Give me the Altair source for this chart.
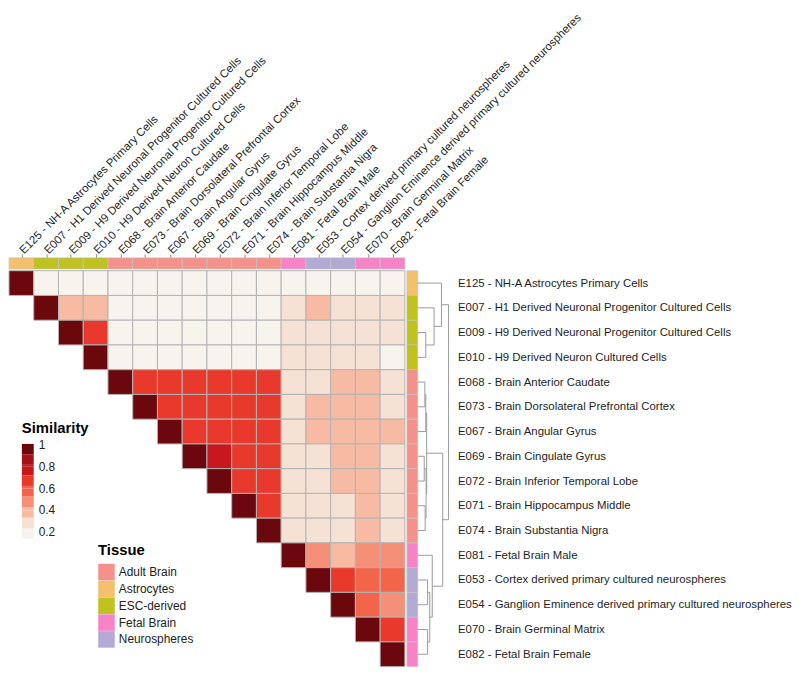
import json
import altair as alt
import pandas as pd

# ---------------- data ----------------
names = [
    "E125 - NH-A Astrocytes Primary Cells",
    "E007 - H1 Derived Neuronal Progenitor Cultured Cells",
    "E009 - H9 Derived Neuronal Progenitor Cultured Cells",
    "E010 - H9 Derived Neuron Cultured Cells",
    "E068 - Brain Anterior Caudate",
    "E073 - Brain Dorsolateral Prefrontal Cortex",
    "E067 - Brain Angular Gyrus",
    "E069 - Brain Cingulate Gyrus",
    "E072 - Brain Inferior Temporal Lobe",
    "E071 - Brain Hippocampus Middle",
    "E074 - Brain Substantia Nigra",
    "E081 - Fetal Brain Male",
    "E053 - Cortex derived primary cultured neurospheres",
    "E054 - Ganglion Eminence derived primary cultured neurospheres",
    "E070 - Brain Germinal Matrix",
    "E082 - Fetal Brain Female",
]
tissues = [
    "Astrocytes", "ESC-derived", "ESC-derived", "ESC-derived",
    "Adult Brain", "Adult Brain", "Adult Brain", "Adult Brain",
    "Adult Brain", "Adult Brain", "Adult Brain",
    "Fetal Brain", "Neurospheres", "Neurospheres", "Fetal Brain", "Fetal Brain",
]
# upper triangle of the similarity matrix, each row starts at the diagonal
sim_rows = [
    [1.00, 0.18, 0.18, 0.18, 0.18, 0.18, 0.18, 0.18, 0.18, 0.18, 0.18, 0.18, 0.18, 0.18, 0.18, 0.18],
    [1.00, 0.38, 0.38, 0.18, 0.18, 0.18, 0.18, 0.18, 0.18, 0.18, 0.28, 0.38, 0.28, 0.28, 0.28],
    [1.00, 0.68, 0.18, 0.18, 0.18, 0.18, 0.18, 0.18, 0.18, 0.28, 0.28, 0.28, 0.28, 0.28],
    [1.00, 0.18, 0.18, 0.18, 0.18, 0.18, 0.18, 0.18, 0.28, 0.28, 0.28, 0.28, 0.19],
    [1.00, 0.68, 0.68, 0.68, 0.68, 0.68, 0.68, 0.28, 0.28, 0.38, 0.38, 0.28],
    [1.00, 0.68, 0.68, 0.68, 0.68, 0.68, 0.28, 0.38, 0.38, 0.38, 0.28],
    [1.00, 0.67, 0.67, 0.67, 0.67, 0.28, 0.38, 0.38, 0.38, 0.38],
    [1.00, 0.78, 0.67, 0.67, 0.28, 0.28, 0.38, 0.38, 0.28],
    [1.00, 0.68, 0.67, 0.28, 0.28, 0.38, 0.38, 0.28],
    [1.00, 0.68, 0.28, 0.28, 0.28, 0.38, 0.28],
    [1.00, 0.28, 0.28, 0.28, 0.38, 0.28],
    [1.00, 0.48, 0.38, 0.48, 0.48],
    [1.00, 0.68, 0.58, 0.58],
    [1.00, 0.58, 0.48],
    [1.00, 0.68],
    [1.00],
]
# hierarchical clustering merges: (child a, child b, merge height); ints are leaves (row index)
merges = {
    "n910": (2, 3, 0.26),
    "esc": (1, "n910", 0.53),
    "top": (0, "esc", 0.77),
    "a1": (4, 5, 0.23),
    "a2": ("a1", 6, 0.26),
    "a3": (7, 8, 0.21),
    "a4": (9, 10, 0.24),
    "a5": ("a3", "a4", 0.27),
    "adult": ("a2", "a5", 0.29),
    "f1": (12, 13, 0.32),
    "f2": (14, 15, 0.32),
    "f3": ("f1", "f2", 0.39),
    "fetal": (11, "f3", 0.47),
    "af": ("adult", "fetal", 0.81),
    "root": ("top", "af", 1.00),
}

tissue_domain = ["Adult Brain", "Astrocytes", "ESC-derived", "Fetal Brain", "Neurospheres"]
tissue_colors = ["#F4918A", "#F3C06C", "#BFC21F", "#F683C5", "#B2A9D4"]
sim_colors = ["#f7f4ee", "#f6e1d5", "#f6bba2", "#f58f77", "#f3654a",
              "#e9392c", "#c8181e", "#a51016", "#6a080e"]
sim_ticks = [0.2, 0.4, 0.6, 0.8, 1.0]

# ---------------- layout constants ----------------
N = len(names)
U = 25.0                      # pixels per cell
BAR_TOP = (-0.52, -0.07)      # top tissue bar (y, y2)
BAR_RIGHT = (16.08, 16.52)    # right tissue bar (x, x2)
DENDRO_W = 1.245              # dendrogram width in cell units
XMAX = BAR_RIGHT[1] + DENDRO_W
YMIN = BAR_TOP[0]
SIM_LO, SIM_HI = 0.137, 1.01
LABEL_SIZE = 11.5

# ---------------- tables ----------------
cells = []
for i, row in enumerate(sim_rows):
    for k, v in enumerate(row):
        j = i + k
        cells.append({"row": names[i], "col": names[j], "value": v,
                      "x": j, "x2": j + 1, "y": i, "y2": i + 1})
cells = pd.DataFrame(cells)

bars = []
for i, t in enumerate(tissues):
    bars.append({"tissue": t, "x": i, "x2": i + 1, "y": BAR_TOP[0], "y2": BAR_TOP[1]})
    bars.append({"tissue": t, "x": BAR_RIGHT[0], "x2": BAR_RIGHT[1], "y": i, "y2": i + 1})
bars = pd.DataFrame(bars)

pos = {}
def node(c):
    if isinstance(c, int):
        return (0.0, c + 0.5)
    if c not in pos:
        a, b, h = merges[c]
        pos[c] = (h, (node(a)[1] + node(b)[1]) / 2)
    return pos[c]

def hx(h):
    return BAR_RIGHT[1] + h * DENDRO_W

segs = []
for name, (a, b, h) in merges.items():
    ha, ya = node(a)
    hb, yb = node(b)
    segs.append({"x": hx(h), "x2": hx(h), "y": ya, "y2": yb})
    segs.append({"x": hx(ha), "x2": hx(h), "y": ya, "y2": ya})
    segs.append({"x": hx(hb), "x2": hx(h), "y": yb, "y2": yb})
segs = pd.DataFrame(segs)

# legend entries: bin edges of the quantize scale (slightly nudged) plus the labelled ticks
nbins = len(sim_colors)
step = (SIM_HI - SIM_LO) / nbins
edges = [round(SIM_LO + k * step + 0.002, 4) for k in range(nbins)] + [SIM_HI]
legend_values = sorted(set(edges + sim_ticks))

# ---------------- chart ----------------
FONT = "Liberation Sans"
label_expr = json.dumps(names) + "[floor(datum.value)]"
centers = [i + 0.5 for i in range(N)]

xs = alt.Scale(domain=[0, XMAX], nice=False, zero=False)
ys = alt.Scale(domain=[YMIN, N], nice=False, zero=False, reverse=True)

x_axis = alt.Axis(orient="top", values=centers, labelExpr=label_expr,
                  labelAngle=-45, labelAlign="left", labelBaseline="middle",
                  labelPadding=2, tickSize=4, tickColor="#8c8c8c", tickWidth=1,
                  domain=False, grid=False, title=None, labelFontSize=LABEL_SIZE,
                  labelColor="#1e1e1e", labelOverlap=False, labelFlush=False,
                  labelBound=False, labelFont=FONT, labelLimit=1000)
y_axis = alt.Axis(orient="right", values=centers, labelExpr=label_expr,
                  ticks=False, domain=False, grid=False, title=None,
                  labelPadding=9, labelFontSize=LABEL_SIZE, labelColor="#1e1e1e",
                  labelOverlap=False, labelFlush=False, labelBound=False,
                  labelAlign="left", labelBaseline="middle", labelFont=FONT,
                  labelLimit=1000)

sim_label_expr = ("indexof(" + json.dumps(sim_ticks) +
                  ", datum.value) >= 0 ? format(datum.value, '~g') : ''")

heat = alt.Chart(cells).mark_rect(stroke="#b3b3b3", strokeWidth=1).encode(
    x=alt.X("x:Q", scale=xs, axis=x_axis),
    x2="x2:Q",
    y=alt.Y("y:Q", scale=ys, axis=y_axis),
    y2="y2:Q",
    color=alt.Color(
        "value:Q",
        scale=alt.Scale(type="quantize", domain=[SIM_LO, SIM_HI], range=sim_colors, nice=False),
        legend=alt.Legend(title="Similarity", orient="none", legendX=13, legendY=165,
                          type="gradient", direction="vertical", gradientLength=96,
                          gradientThickness=12, values=legend_values,
                          labelExpr=sim_label_expr, labelOverlap=False,
                          labelOffset=5, titlePadding=8,
                          gradientStrokeWidth=0, labelFontSize=12, titleFontSize=15,
                          titleFont=FONT, labelFont=FONT, titleColor="#000",
                          labelColor="#222", padding=0),
    ),
)

tissue_bar = alt.Chart(bars).mark_rect(stroke="#c4c4c4", strokeWidth=0.7).encode(
    x=alt.X("x:Q", scale=xs, axis=x_axis),
    x2="x2:Q",
    y=alt.Y("y:Q", scale=ys, axis=y_axis),
    y2="y2:Q",
    color=alt.Color(
        "tissue:N",
        scale=alt.Scale(domain=tissue_domain, range=tissue_colors),
        legend=alt.Legend(title="Tissue", orient="none", legendX=90, legendY=288,
                          symbolType="square", symbolSize=279, symbolStrokeWidth=0,
                          symbolOpacity=1, rowPadding=0, labelOffset=4,
                          labelFontSize=12, titleFontSize=15, titlePadding=6,
                          titleFont=FONT, labelFont=FONT, titleColor="#000",
                          labelColor="#222", padding=0),
    ),
)

dendro = alt.Chart(segs).mark_rule(color="#9a9a9a", strokeWidth=1).encode(
    x=alt.X("x:Q", scale=xs, axis=x_axis),
    x2="x2:Q",
    y=alt.Y("y:Q", scale=ys, axis=y_axis),
    y2="y2:Q",
)

chart = alt.layer(heat, tissue_bar, dendro).resolve_scale(
    color="independent"
).properties(
    width=XMAX * U,
    height=(N - YMIN) * U,
    padding={"left": 0, "top": 0, "right": 0, "bottom": 1},
).configure(font=FONT).configure_view(stroke=None)

chart.save("out.html", embed_options={"renderer": "svg", "actions": False})
